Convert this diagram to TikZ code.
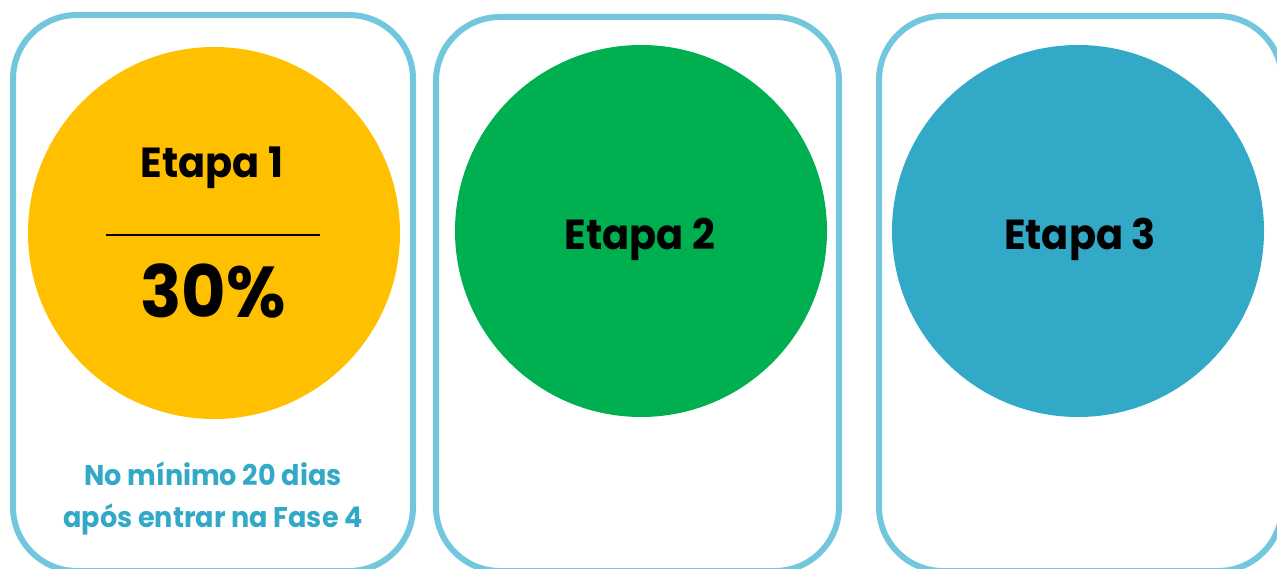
\documentclass[tikz,border=0pt]{standalone}
\usepackage{fontspec}
\setmainfont{Poppins}[FakeStretch=0.95]
\usetikzlibrary{positioning}
\definecolor{boxline}{HTML}{73C7DD}
\definecolor{etapaone}{HTML}{FFC000}
\definecolor{etapatwo}{HTML}{00B050}
\definecolor{etapathree}{HTML}{33A9C8}
\tikzset{
	etapabox/.style={draw=boxline,line width=6pt,rounded corners=64pt},
	etapadisc/.style={circle,inner sep=0,outer sep=0,minimum size=372pt},
	etapatext/.style={anchor=base,font=\bfseries\fontsize{42}{48}\selectfont},
	prazotext/.style={anchor=base,align=center,text=etapathree,font=\bfseries\fontsize{28.5}{42}\selectfont}
}
\begin{document}
\begin{tikzpicture}[x=1pt,y=-1pt]
		\useasboundingbox (0,0) rectangle (1277,569);

		\draw[etapabox] (13,15) rectangle (413,571);
		\draw[etapabox] (436,17) rectangle (839,571);
		\draw[etapabox] (879,16) rectangle (1282,571);

		\node[etapadisc,fill=etapaone] (A) at (214,233) {};
		\node[etapadisc,fill=etapatwo] (B) at (641,231) {};
		\node[etapadisc,fill=etapathree] (C) at (1078,231) {};

		\node[etapatext] (A1) at (212,178) {Etapa 1};
		\coordinate (Al) at (106,235);
		\coordinate (Ar) at (320,235);
		\draw[line width=2.2pt] (Al) -- (Ar);
		\node[etapatext,font=\bfseries\fontsize{72}{80}\selectfont] (A2) at (213,317) {30\%};

		\node[etapatext] (B1) at (640,250) {Etapa 2};
		\node[etapatext] (C1) at (1080,250) {Etapa 3};

		\node[prazotext] (P1) at (213,485) {No mínimo 20 dias};
		\node[prazotext] (P2) at (213,527) {após entrar na Fase 4};
	\end{tikzpicture}
\end{document}
